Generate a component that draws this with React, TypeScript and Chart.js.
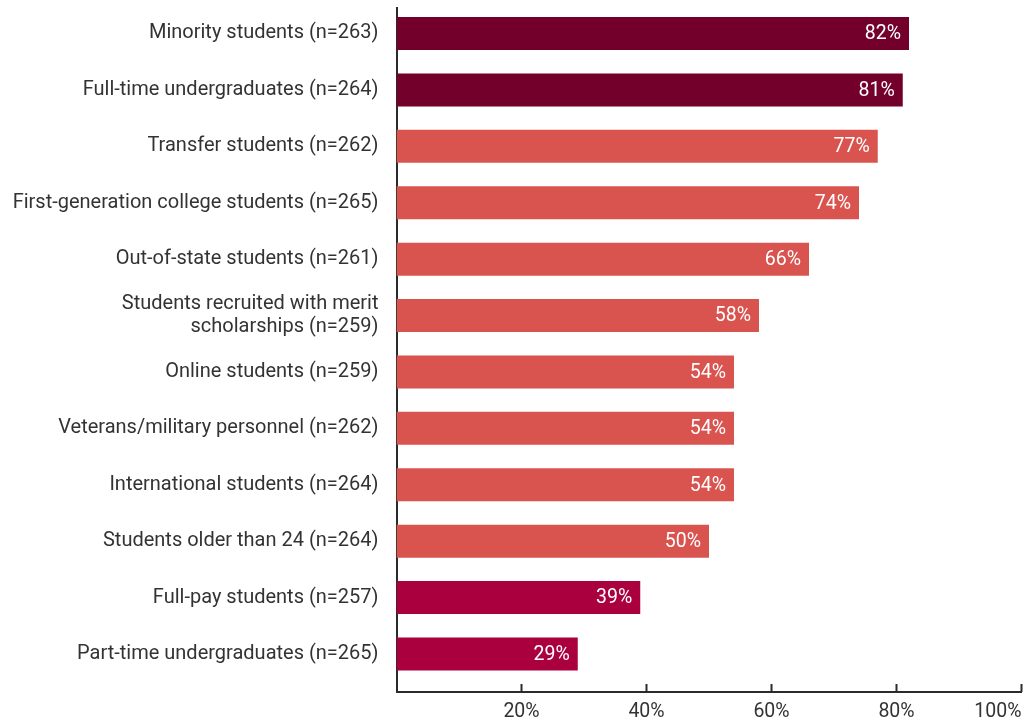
import React, { useEffect, useRef } from "react";
import { Chart, registerables } from "chart.js";

Chart.register(...registerables);

const categories: (string | string[])[] = [
  "Minority students (n=263)",
  "Full-time undergraduates (n=264)",
  "Transfer students (n=262)",
  "First-generation college students (n=265)",
  "Out-of-state students (n=261)",
  ["Students recruited with merit", "scholarships (n=259)"],
  "Online students (n=259)",
  "Veterans/military personnel (n=262)",
  "International students (n=264)",
  "Students older than 24 (n=264)",
  "Full-pay students (n=257)",
  "Part-time undergraduates (n=265)",
];
const values = [82, 81, 77, 74, 66, 58, 54, 54, 54, 50, 39, 29];
const MAROON = "#72002a";
const CORAL = "#d9534f";
const CRIMSON = "#aa003d";
const barColors = [MAROON, MAROON, CORAL, CORAL, CORAL, CORAL, CORAL, CORAL, CORAL, CORAL, CRIMSON, CRIMSON];
const xTicks = [0, 20, 40, 60, 80, 100];

const FONT = "Roboto";
const FONT_SIZE = 20;
const TEXT = "#333333";
const AXIS = "#2b2b2b";

export default function App() {
  const ref = useRef<HTMLCanvasElement | null>(null);
  useEffect(() => {
    document.body.style.margin = "0";
    document.body.style.overflow = "hidden";
    if (!ref.current) return;

    const valueLabels = {
      id: "valueLabels",
      afterDatasetsDraw(chart: any) {
        const ctx = chart.ctx;
        const meta = chart.getDatasetMeta(0);
        ctx.save();
        ctx.font = `19.5px ${FONT}`;
        ctx.fillStyle = "#ffffff";
        ctx.textAlign = "right";
        ctx.textBaseline = "middle";
        meta.data.forEach((bar: any, i: number) => {
          ctx.fillText(values[i] + "%", bar.x - 8, bar.y + 1);
        });
        ctx.restore();
      },
    };

    const innerTicks = {
      id: "innerTicks",
      afterDraw(chart: any) {
        const ctx = chart.ctx;
        const xs = chart.scales.x;
        const bottom = chart.chartArea.bottom;
        ctx.save();
        ctx.strokeStyle = AXIS;
        ctx.lineWidth = 2;
        xTicks.forEach((v) => {
          if (v === 0) return;
          const px = xs.getPixelForValue(v);
          ctx.beginPath();
          ctx.moveTo(px, bottom);
          ctx.lineTo(px, bottom - 8);
          ctx.stroke();
        });
        ctx.restore();
      },
    };

    const chart = new Chart(ref.current, {
      type: "bar",
      data: {
        datasets: [
          {
            data: values.map((v, i) => ({ x: v, y: i })),
            backgroundColor: barColors,
            borderWidth: 0,
            categoryPercentage: 1,
            barPercentage: 0.585,
          } as any,
        ],
      },
      options: {
        indexAxis: "y",
        animation: false,
        responsive: true,
        maintainAspectRatio: false,
        layout: { padding: { top: 8, right: 5.5, left: 0, bottom: 0 } },
        plugins: { legend: { display: false }, tooltip: { enabled: false } },
        scales: {
          x: {
            type: "linear",
            min: 0,
            max: 100,
            afterBuildTicks: (scale: any) => {
              scale.ticks = xTicks.map((v) => ({ value: v }));
            },
            afterFit: (scale: any) => {
              scale.height = 29;
              scale.paddingLeft = 0;
              scale.paddingRight = 0;
            },
            ticks: {
              callback: (v: any) => (v === 0 ? "" : v + "%"),
              font: { family: FONT, size: 19.5 },
              color: TEXT,
              padding: 8,
              align: "inner",
              maxRotation: 0,
            },
            grid: { display: false, drawTicks: false },
            border: { display: true, color: AXIS, width: 2 },
          },
          y: {
            type: "linear",
            reverse: true,
            offset: false,
            min: -0.452,
            max: 11.674,
            afterBuildTicks: (scale: any) => {
              scale.ticks = categories.map((_, i) => ({ value: i }));
            },
            afterFit: (scale: any) => {
              scale.width = 396.5;
              scale.paddingTop = 0;
              scale.paddingBottom = 0;
            },
            ticks: {
              autoSkip: false,
              callback: (v: any) => categories[v as number],
              font: { family: FONT, size: FONT_SIZE, lineHeight: 1.18 },
              color: TEXT,
              padding: 18,
            },
            grid: { display: false, drawTicks: false, offset: false },
            border: { display: true, color: AXIS, width: 2 },
          },
        },
      } as any,
      plugins: [valueLabels, innerTicks],
    });
    return () => chart.destroy();
  }, []);

  return (
    <div style={{ position: "relative", width: "1027px", height: "721px" }}>
      <canvas ref={ref} />
    </div>
  );
}
